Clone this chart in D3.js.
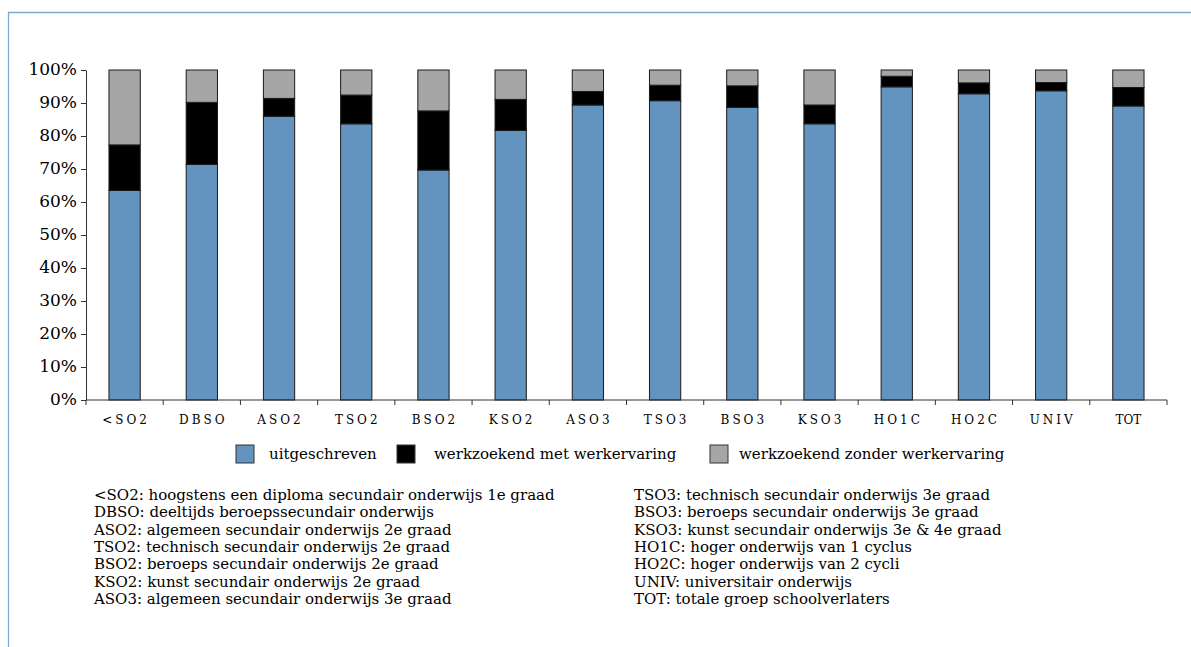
<!DOCTYPE html>
<html>
<head>
<meta charset="utf-8">
<script src="https://cdn.jsdelivr.net/npm/d3@7"></script>
<style>
  html, body { margin: 0; padding: 0; background: #fff; }
  svg { display: block; }
  text { font-family: "DejaVu Serif", serif; fill: #000; }
</style>
</head>
<body>
<svg id="chart" width="1191" height="647"></svg>
<script>
// Schoolverlaters naar onderwijsniveau: aandeel per uitstroomsituatie (%)
const categories = ["<SO2", "DBSO", "ASO2", "TSO2", "BSO2", "KSO2", "ASO3", "TSO3", "BSO3", "KSO3", "HO1C", "HO2C", "UNIV", "TOT"];
const uitgeschreven = [63.5, 71.4, 86.0, 83.7, 69.7, 81.7, 89.4, 90.7, 88.7, 83.7, 94.9, 92.8, 93.7, 89.1];
const metWerkervaring = [13.8, 18.8, 5.4, 8.7, 17.9, 9.4, 4.1, 4.7, 6.5, 5.7, 3.2, 3.3, 2.5, 5.6];
const zonderWerkervaring = [22.7, 9.8, 8.6, 7.6, 12.4, 8.9, 6.5, 4.6, 4.8, 10.6, 1.9, 3.9, 3.8, 5.3];

const seriesNames = ["uitgeschreven", "werkzoekend met werkervaring", "werkzoekend zonder werkervaring"];
const seriesColors = ["#6394bf", "#000000", "#a6a6a6"];
const yTicks = [0, 10, 20, 30, 40, 50, 60, 70, 80, 90, 100];

const notesLeft = [
  "<SO2: hoogstens een diploma secundair onderwijs 1e graad",
  "DBSO: deeltijds beroepssecundair onderwijs",
  "ASO2: algemeen secundair onderwijs 2e graad",
  "TSO2: technisch secundair onderwijs 2e graad",
  "BSO2: beroeps secundair onderwijs 2e graad",
  "KSO2: kunst secundair onderwijs 2e graad",
  "ASO3: algemeen secundair onderwijs 3e graad"
];
const notesRight = [
  "TSO3: technisch secundair onderwijs 3e graad",
  "BSO3: beroeps secundair onderwijs 3e graad",
  "KSO3: kunst secundair onderwijs 3e & 4e graad",
  "HO1C: hoger onderwijs van 1 cyclus",
  "HO2C: hoger onderwijs van 2 cycli",
  "UNIV: universitair onderwijs",
  "TOT: totale groep schoolverlaters"
];

const svg = d3.select("#chart");

// frame lines (left and top)
svg.append("path")
  .attr("d", "M8.5,647 V12.5 H1191")
  .attr("fill", "none")
  .attr("stroke", "#7ea8d0")
  .attr("stroke-width", 1.3);

const plot = { left: 86, right: 1167, top: 70, bottom: 400 };

const x = d3.scaleBand().domain(categories).range([plot.left, plot.right]).paddingInner(0.595).paddingOuter(0.2975);
const y = d3.scaleLinear().domain([0, 100]).range([plot.bottom, plot.top]);

const rows = categories.map((c, i) => ({
  cat: c,
  s0: uitgeschreven[i],
  s1: metWerkervaring[i],
  s2: zonderWerkervaring[i]
}));
const stacked = d3.stack().keys(["s0", "s1", "s2"])(rows);

// stacked bars
svg.append("g").selectAll("g")
  .data(stacked)
  .join("g")
  .attr("fill", (d, i) => seriesColors[i])
  .selectAll("rect")
  .data(d => d)
  .join("rect")
  .attr("x", d => x(d.data.cat))
  .attr("width", x.bandwidth())
  .attr("y", d => y(Math.min(d[1], 100)))
  .attr("height", d => y(d[0]) - y(Math.min(d[1], 100)))
  .attr("stroke", "#1a1a1a")
  .attr("stroke-width", 1);

// y axis
const yAxis = d3.axisLeft(y).tickValues(yTicks).tickFormat(d => d + "%").tickSize(5).tickSizeOuter(0);
const gy = svg.append("g").attr("transform", `translate(${plot.left},0)`).call(yAxis);
gy.select(".domain").attr("stroke", "#333");
gy.selectAll(".tick line").attr("stroke", "#333");
gy.selectAll(".tick text")
  .attr("x", -9)
  .attr("dy", "0.25em")
  .style("font-family", "'DejaVu Serif', serif")
  .style("font-size", "17px")
  .attr("fill", "#000");

// x axis: line with tick marks at category boundaries
const gx = svg.append("g").attr("transform", `translate(0,${plot.bottom})`);
gx.append("line")
  .attr("x1", plot.left).attr("x2", plot.right)
  .attr("stroke", "#333");
const bandEdge = i => plot.left + i * (plot.right - plot.left) / categories.length;
gx.selectAll("line.tk")
  .data(d3.range(categories.length + 1))
  .join("line")
  .attr("class", "tk")
  .attr("x1", bandEdge)
  .attr("x2", bandEdge)
  .attr("y1", 0).attr("y2", 5)
  .attr("stroke", "#333");
gx.selectAll("text")
  .data(categories)
  .join("text")
  .attr("x", d => x(d) + x.bandwidth() / 2 + (d === "TOT" ? 0 : 1.5))
  .attr("y", 24)
  .attr("text-anchor", "middle")
  .style("font-size", "12px")
  .style("letter-spacing", d => d === "TOT" ? "0px" : "3px")
  .text(d => d);

// legend
const legendX = [236, 397, 710];
const legend = svg.append("g");
seriesNames.forEach((name, i) => {
  legend.append("rect")
    .attr("x", legendX[i]).attr("y", 445)
    .attr("width", 18).attr("height", 18)
    .attr("fill", seriesColors[i])
    .attr("stroke", "#333").attr("stroke-width", 1);
  legend.append("text")
    .attr("x", legendX[i] + (i === 0 ? 33 : i === 1 ? 37 : 29))
    .attr("y", 459)
    .style("font-size", "15px")
    .text(name);
});

// explanation of abbreviations
const notes = svg.append("g").style("font-size", "15px");
[[notesLeft, 94], [notesRight, 634]].forEach(([lines, nx]) => {
  notes.append("g").selectAll("text")
    .data(lines)
    .join("text")
    .attr("x", nx)
    .attr("y", (d, i) => 500 + i * 17.3)
    .text(d => d);
});
</script>
</body>
</html>
